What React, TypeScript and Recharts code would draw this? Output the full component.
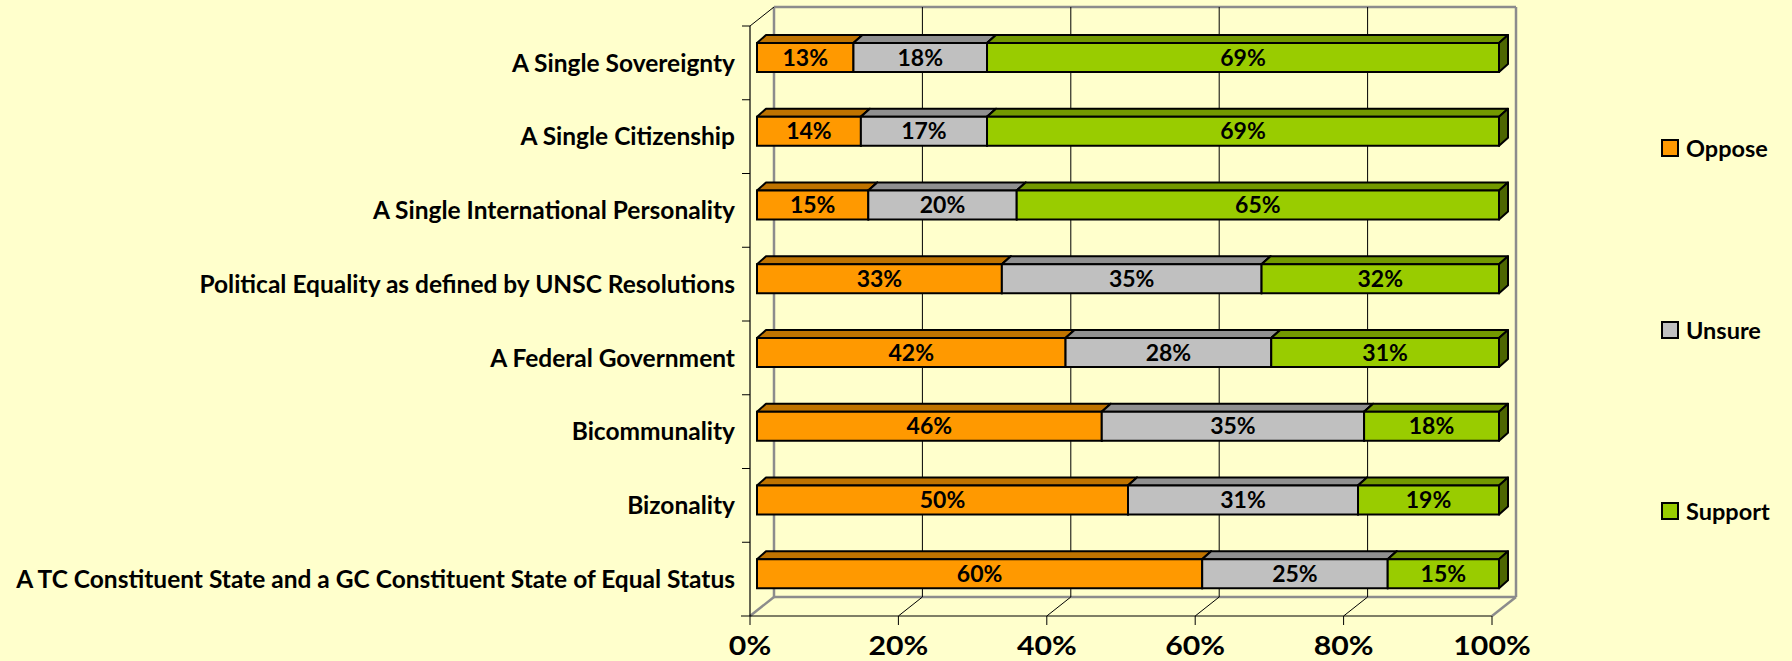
import React from 'react';
import { BarChart, Bar, XAxis, YAxis, CartesianGrid, LabelList, Legend } from 'recharts';

const CATEGORIES = [
  'A Single Sovereignty',
  'A Single Citizenship',
  'A Single International Personality',
  'Political Equality as defined by UNSC Resolutions',
  'A Federal Government',
  'Bicommunality',
  'Bizonality',
  'A TC Constituent State and a GC Constituent State of Equal Status',
];
const OPPOSE = [13, 14, 15, 33, 42, 46, 50, 60];
const UNSURE = [18, 17, 20, 35, 28, 35, 31, 25];
const SUPPORT = [69, 69, 65, 32, 31, 18, 19, 15];
const X_TICKS = [0, 0.2, 0.4, 0.6, 0.8, 1];

const SERIES = [
  { key: 'oppose', name: 'Oppose', fill: '#FF9900', top: '#BF7300', side: '#8C5400' },
  { key: 'unsure', name: 'Unsure', fill: '#C0C0C0', top: '#909090', side: '#707070' },
  { key: 'support', name: 'Support', fill: '#99CC00', top: '#739900', side: '#4D6600' },
];

const data = CATEGORIES.map((c, i) => ({
  name: c,
  oppose: OPPOSE[i],
  unsure: UNSURE[i],
  support: SUPPORT[i],
}));

// layout
const W = 1792;
const H = 661;
const M_TOP = 21;
const Y_W = 757;
const M_RIGHT = 293;
const X_H = 50;
const PLOT_L = Y_W;
const PLOT_R = W - M_RIGHT;
const PLOT_T = M_TOP;
const PLOT_B = H - X_H;
const BAND = (PLOT_B - PLOT_T) / CATEGORIES.length;
// 3D offsets: front plane and back wall relative to the bar plane
const FX = -7;
const FY = 5;
const BX = 17;
const BY = -14;
const FONT = "Lato, 'Open Sans', sans-serif";
const WALL = '#8C8C8C';

const renderVertical = (p: any) => {
  const x = p.x1;
  const y1 = p.y1;
  const y2 = p.y2;
  const isLeft = Math.abs(x - PLOT_L) < 1;
  const isRight = Math.abs(x - PLOT_R) < 1;
  const edge = isLeft || isRight;
  return (
    <g key={p.key ?? `v-${p.index}`}>
      <line x1={x + BX} y1={y1 + BY} x2={x + BX} y2={y2 + BY} stroke={edge ? WALL : '#000'} strokeWidth={edge ? 2.5 : 1} />
      <line x1={x + BX} y1={y2 + BY} x2={x + FX} y2={y2 + FY} stroke={edge ? WALL : '#000'} strokeWidth={edge ? 2.5 : 1} />
      <line x1={x + FX} y1={y2 + FY} x2={x + FX} y2={y2 + FY + 9} stroke="#000" strokeWidth={1} />
      {isLeft && (
        <g>
          <line x1={x + BX} y1={y1 + BY} x2={PLOT_R + BX} y2={y1 + BY} stroke={WALL} strokeWidth={2.5} />
          <line x1={x + BX} y1={y2 + BY} x2={PLOT_R + BX} y2={y2 + BY} stroke={WALL} strokeWidth={2.5} />
          <line x1={x + FX - 9} y1={y2 + FY} x2={PLOT_R + FX} y2={y2 + FY} stroke="#000" strokeWidth={1.2} />
          <line x1={x + FX} y1={y1 + FY} x2={x + FX} y2={y2 + FY} stroke="#000" strokeWidth={1.2} />
          <line x1={x + FX} y1={y1 + FY} x2={x + BX} y2={y1 + BY} stroke="#000" strokeWidth={1} />
        </g>
      )}
    </g>
  );
};

const YTick = (p: any) => {
  const y = p.y;
  return (
    <g>
      <text x={PLOT_L + FX - 15} y={y + FY} dy="0.36em" textAnchor="end" fontFamily={FONT} fontWeight={700} fontSize={24.5} fill="#000">
        {p.payload.value}
      </text>
      <line x1={PLOT_L + FX - 8} y1={y - BAND / 2 + FY} x2={PLOT_L + FX} y2={y - BAND / 2 + FY} stroke="#000" strokeWidth={1} />
    </g>
  );
};

const XTick = (p: any) => {
  const v = p.payload.value;
  return (
    <g transform={`translate(${p.x + FX},${PLOT_B + 34}) scale(1.12,1)`}>
      <text x={0} y={0} dy="0.36em" textAnchor="middle" fontFamily={FONT} fontWeight={700} fontSize={27} fill="#000">
        {`${Math.round(v * 100)}%`}
      </text>
    </g>
  );
};

const makeShape = (s: typeof SERIES[number]) => (p: any) => {
  const { x, y, width: w, height: h } = p;
  if (w == null || h == null || w <= 0) return <g />;
  const dx = 9;
  const dy = 8;
  return (
    <g>
      <polygon
        points={`${x},${y} ${x + dx},${y - dy} ${x + w + dx},${y - dy} ${x + w},${y}`}
        fill={s.top}
        stroke="#000"
        strokeWidth={2}
        strokeLinejoin="round"
      />
      <polygon
        points={`${x + w},${y} ${x + w + dx},${y - dy} ${x + w + dx},${y + h - dy} ${x + w},${y + h}`}
        fill={s.side}
        stroke="#000"
        strokeWidth={2}
        strokeLinejoin="round"
      />
      <rect x={x} y={y} width={w} height={h} fill={s.fill} stroke="#000" strokeWidth={2} />
    </g>
  );
};

const renderLegend = () => (
  <div style={{ fontFamily: FONT, fontWeight: 700, fontSize: 23.5, color: '#000' }}>
    {SERIES.map((s, i) => (
      <div
        key={s.key}
        style={{ display: 'flex', alignItems: 'center', height: 30, marginBottom: i < SERIES.length - 1 ? 151.5 : 0 }}
      >
        <span
          style={{
            display: 'inline-block',
            width: 14,
            height: 14,
            background: s.fill,
            border: '2px solid #000',
            marginRight: 7,
          }}
        />
        <span>{s.name}</span>
      </div>
    ))}
  </div>
);

export default function App() {
  return (
    <div style={{ position: 'absolute', left: 0, top: 0, width: W, height: H, background: '#FFFFCC' }}>
      <BarChart
        width={W}
        height={H}
        data={data}
        layout="vertical"
        stackOffset="expand"
        margin={{ top: M_TOP, right: M_RIGHT, bottom: 0, left: 0 }}
        barSize={29}
      >
        <CartesianGrid horizontal={false} vertical={renderVertical} stroke="#000" />
        <XAxis
          type="number"
          domain={[0, 1]}
          ticks={X_TICKS}
          tick={XTick}
          axisLine={false}
          tickLine={false}
          height={X_H}
          interval={0}
        />
        <YAxis
          type="category"
          dataKey="name"
          width={Y_W}
          tick={YTick}
          axisLine={false}
          tickLine={false}
          interval={0}
        />
        <Legend
          layout="horizontal"
          align="center"
          verticalAlign="middle"
          content={renderLegend}
          wrapperStyle={{ left: 1661, top: 133, width: 131 }}
        />
        {SERIES.map((s) => (
          <Bar
            key={s.key}
            dataKey={s.key}
            name={s.name}
            stackId="a"
            fill={s.fill}
            shape={makeShape(s)}
            isAnimationActive={false}
          >
            <LabelList
              dataKey={s.key}
              position="center"
              formatter={(v: any) => `${v}%`}
              fill="#000"
              fontSize={23}
              fontWeight={700}
              fontFamily={FONT}
            />
          </Bar>
        ))}
      </BarChart>
    </div>
  );
}
